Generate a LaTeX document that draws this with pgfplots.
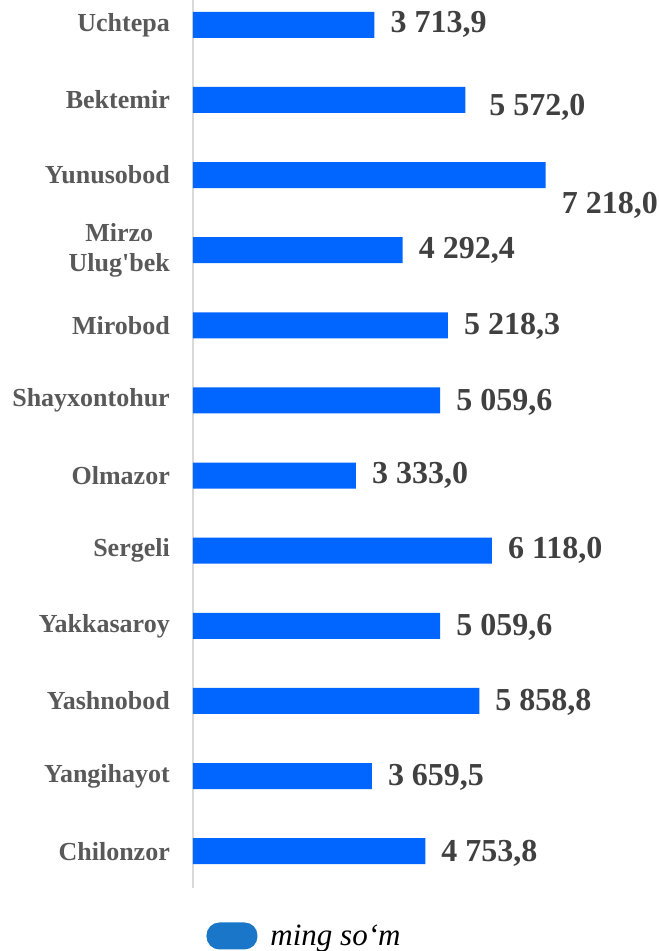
\documentclass[border=0pt]{standalone}
\usepackage{pgfplots}
\pgfplotsset{compat=1.18}
\usepackage{pgfplotstable}
\usepackage{fontspec}
\setmainfont{Liberation Serif}
\definecolor{barblue}{HTML}{0066FF}
\definecolor{legblue}{HTML}{1976C8}
\definecolor{catgray}{HTML}{595959}
\definecolor{valgray}{HTML}{404040}
\definecolor{axgray}{HTML}{D9D9D9}

\pgfplotstableread[col sep=semicolon]{
y;val;lab;dx;dy
11;3713.9;3 713,9;16;0
10;5572.0;5 572,0;24;-7
9;7218.0;7 218,0;16;-30
8;4292.4;4 292,4;16;0
7;5218.3;5 218,3;16;-1
6;5059.6;5 059,6;16;-2
5;3333.0;3 333,0;16;0
4;6118.0;6 118,0;16;0
3;5059.6;5 059,6;16;-2
2;5858.8;5 858,8;16;-1
1;3659.5;3 659,5;16;-1
0;4753.8;4 753,8;16;-2
}\datatable

\begin{document}
\begin{tikzpicture}
\begin{axis}[
  name=ax,
  xbar,
  bar width=26pt,
  scale only axis,
  width=440pt, height=888pt,
  xmin=0, xmax=9005,
  ymin=-0.49, ymax=11.33,
  axis x line=none,
  axis y line=left,
  y axis line style={-, draw=axgray, line width=1.2pt},
  ytick={0,...,11},
  yticklabels={Chilonzor,Yangihayot,Yashnobod,Yakkasaroy,Sergeli,Olmazor,Shayxontohur,Mirobod,{Mirzo\\Ulug\textquotesingle bek},Yunusobod,Bektemir,Uchtepa},
  major tick length=0pt,
  ytick style={draw=none},
  yticklabel style={font=\fontsize{26}{30}\selectfont\bfseries, text=catgray, align=center, inner sep=0pt, xshift=-23pt},
  clip=false,
  legend style={at={(axis description cs:0.2534,-0.054)}, anchor=center, draw=none, fill=none,
    font=\fontsize{31}{34}\selectfont\itshape, inner sep=0pt},
  legend cell align=left,
]
\addplot[
  fill=barblue, draw=none,
  point meta=explicit symbolic,
  visualization depends on={\thisrow{dx}\as\dx},
  visualization depends on={\thisrow{dy}\as\dy},
  nodes near coords,
  nodes near coords style={anchor=west, inner sep=0pt, xshift=\dx pt, yshift=\dy pt,
    font=\fontsize{32}{36}\selectfont\bfseries, text=valgray},
  legend image code/.code={\fill[legblue, rounded corners=13pt] (0pt,-13.5pt) rectangle (51pt,13.5pt);
    \path (0pt,0pt) (62pt,0pt);},
] table[x=val, y=y, meta=lab] {\datatable};
\addlegendentry{ming so‘m}
\coordinate (sw) at (rel axis cs:0,0);
\end{axis}
\pgfresetboundingbox
\path[use as bounding box] (sw) ++(-193pt,-63pt) rectangle ++(659pt,951pt);
\end{tikzpicture}
\end{document}
